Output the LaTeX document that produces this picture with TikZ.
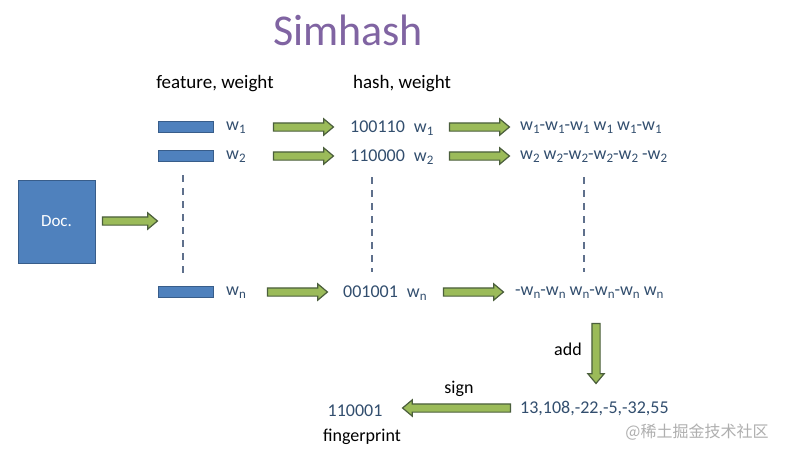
\documentclass[tikz,border=0pt]{standalone}
\usepackage{fontspec}
\setmainfont{Carlito}
\newfontfamily\cjk{Noto Sans CJK SC}
\usetikzlibrary{shapes.arrows}
\definecolor{docblue}{RGB}{79,129,189}
\definecolor{docedge}{RGB}{56,93,138}
\definecolor{arrfill}{RGB}{155,187,89}
\definecolor{arredge}{RGB}{75,95,60}
\definecolor{numblue}{RGB}{50,78,110}
\definecolor{titlepurple}{RGB}{128,100,162}
\definecolor{dashgray}{RGB}{95,112,140}
\definecolor{wmgray}{RGB}{175,175,175}
\newcommand{\wsub}[1]{w\raisebox{-0.35ex}{\fontsize{13}{13}\selectfont #1}}
\begin{document}
\begin{tikzpicture}[x=1pt,y=-1pt,
  barrow/.style={single arrow, draw=arredge, fill=arrfill, line width=1.2pt,
    inner sep=0pt, inner ysep=3.5pt, minimum width=15pt,
    single arrow head extend=4pt, single arrow tip angle=80},
  featbar/.style={rectangle, draw=docedge, fill=docblue, line width=1pt,
    minimum width=55pt, minimum height=11pt, inner sep=0pt},
  vdash/.style={draw=dashgray, line width=1.6pt, dash pattern=on 7pt off 6pt},
  lbl/.style={font=\fontsize{19}{22}\selectfont, text=black, inner sep=0pt},
  num/.style={font=\fontsize{18}{21}\selectfont, text=numblue, inner sep=0pt},
  ]
\useasboundingbox[fill=white] (0,0) rectangle (786,456);

% title
\node[font=\fontsize{44}{50}\selectfont, text=titlepurple, inner sep=0pt] (title) at (348,30) {Simhash};

% headers
\node[lbl] (hfeat) at (215,84) {feature, weight};
\node[lbl] (hhash) at (402,84) {hash, weight};

% document
\node[rectangle, draw=docedge, fill=docblue, line width=1pt, minimum width=77pt,
  minimum height=83pt, text=white, font=\fontsize{17}{20}\selectfont] (doc) at (56.5,221.5) {Doc.};
\node[barrow, minimum height=55pt] (adoc) at (127.5,221) {};

% feature bars
\node[featbar] (f1) at (185.5,126.5) {};
\node[featbar] (f2) at (185.5,155.5) {};
\node[featbar] (fn) at (185.5,292) {};
\coordinate (d1top) at (183,175);
\coordinate (d1bot) at (183,275);
\draw[vdash] (d1top) -- (d1bot);

% weights
\node[num, anchor=west] (w1) at (226,128) {\wsub{1}};
\node[num, anchor=west] (w2) at (226,157) {\wsub{2}};
\node[num, anchor=west] (wn) at (226,293) {\wsub{n}};

% first arrows
\node[barrow, minimum height=60pt] (a11) at (301,127) {};
\node[barrow, minimum height=60pt] (a12) at (301,156) {};
\node[barrow, minimum height=60pt] (a1n) at (295,292) {};

% hashes
\node[num, anchor=west] (h1) at (350,128) {100110\enspace \wsub{1}};
\node[num, anchor=west] (h2) at (350,157) {110000\enspace \wsub{2}};
\node[num, anchor=west] (hn) at (343,293) {001001\enspace \wsub{n}};
\coordinate (d2top) at (372,177);
\coordinate (d2bot) at (372,272);
\draw[vdash] (d2top) -- (d2bot);

% second arrows
\node[barrow, minimum height=60pt] (a21) at (477,127) {};
\node[barrow, minimum height=60pt] (a22) at (477,156) {};
\node[barrow, minimum height=60pt] (a2n) at (471,292) {};

% weighted vectors
\node[num, anchor=west] (r1) at (520,128) {\wsub{1}-\wsub{1}-\wsub{1} \wsub{1} \wsub{1}-\wsub{1}};
\node[num, anchor=west] (r2) at (520,157) {\wsub{2} \wsub{2}-\wsub{2}-\wsub{2}-\wsub{2} -\wsub{2}};
\node[num, anchor=west] (rn) at (515,293) {-\wsub{n}-\wsub{n} \wsub{n}-\wsub{n}-\wsub{n} \wsub{n}};
\coordinate (d3top) at (584,177);
\coordinate (d3bot) at (584,272);
\draw[vdash] (d3top) -- (d3bot);

% add
\node[barrow, minimum height=60pt, rotate=-90] (aadd) at (596,351) {};
\node[lbl, font=\fontsize{18}{21}\selectfont] (add) at (568,349) {add};

% sum
\node[num, anchor=west] (sum) at (520,408) {13,108,-22,-5,-32,55};
\node[barrow, minimum height=108pt, rotate=180] (asign) at (459,408) {};
\node[lbl, font=\fontsize{18}{21}\selectfont] (sign) at (459,389) {sign};

% fingerprint
\node[num] (fp) at (355,411) {110001};
\node[lbl, font=\fontsize{18}{21}\selectfont] (fpl) at (362,437) {fingerprint};

% watermark
\node[font=\cjk\fontsize{16}{19}\selectfont, text=wmgray, inner sep=0pt] (wm) at (697,432) {@稀土掘金技术社区};
\end{tikzpicture}
\end{document}
